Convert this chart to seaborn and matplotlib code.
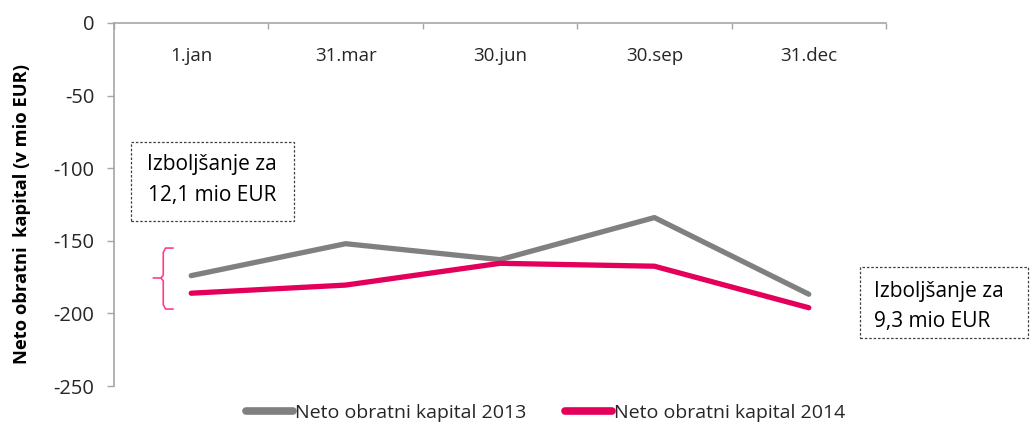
import numpy as np
import pandas as pd
import matplotlib
matplotlib.use("Agg")
import matplotlib.pyplot as plt
from matplotlib.patches import Rectangle
import seaborn as sns

# data
categories = ["1.jan", "31.mar", "30.jun", "30.sep", "31.dec"]
values_2013 = [-174.0, -152.0, -163.0, -134.0, -186.8]
values_2014 = [-186.1, -180.5, -165.5, -167.5, -196.1]
series_names = ["Neto obratni kapital 2013", "Neto obratni kapital 2014"]
y_ticks = [0, -50, -100, -150, -200, -250]

df = pd.DataFrame({
    "pos": list(range(len(categories))) * 2,
    "value": values_2013 + values_2014,
    "series": [series_names[0]] * len(categories) + [series_names[1]] * len(categories),
})

sns.set_style("white")
plt.rcParams["font.family"] = ["Open Sans", "DejaVu Sans"]

W, H = 1032, 426
fig = plt.figure(figsize=(W / 100, H / 100), dpi=100)
ax = fig.add_axes([114 / W, 40 / H, 772 / W, 363 / H])

palette = {series_names[0]: "#808080", series_names[1]: "#e4005a"}
sns.lineplot(data=df, x="pos", y="value", hue="series", palette=palette,
             linewidth=3.8, ax=ax, solid_capstyle="round")

ax.set_xlim(-0.5, len(categories) - 0.5)
ax.set_ylim(-250, 0)
ax.set_yticks(y_ticks)
ax.set_yticklabels([str(v) for v in y_ticks], fontsize=14.5, color="#262626")
ax.tick_params(axis="y", direction="out", length=5, width=1, color="#a6a6a6", pad=9, left=True)

# category axis along the top (crosses at 0)
ax.xaxis.tick_top()
ax.set_xticks(range(len(categories)))
ax.set_xticklabels(categories, fontsize=13.5, color="#262626")
ax.tick_params(axis="x", which="major", length=0, pad=-30)
ax.set_xticks(np.arange(-0.5, len(categories), 1.0), minor=True)
ax.tick_params(axis="x", which="minor", direction="in", length=4.5, width=1,
               color="#a6a6a6", top=True)
ax.set_xlabel("")

for side in ["right", "bottom"]:
    ax.spines[side].set_visible(False)
for side in ["left", "top"]:
    ax.spines[side].set_color("#a6a6a6")
    ax.spines[side].set_linewidth(1.2)

ax.set_ylabel("Neto obratni  kapital (v mio EUR)", fontsize=13.2, fontweight="bold",
              color="black")
ax.yaxis.set_label_coords(-0.108, 0.474)

# annotation boxes (dashed frames)
for x0, y0, x1, y1 in [(131, 142, 294, 221), (860, 267, 1028, 338)]:
    fig.patches.append(Rectangle((x0 / W, 1 - y1 / H), (x1 - x0) / W, (y1 - y0) / H,
                                 transform=fig.transFigure, facecolor="white",
                                 edgecolor="#404040", linestyle=(0, (2, 1.5)),
                                 linewidth=0.9, zorder=5))
for txt, x, y, ha in [("Izboljšanje za", 212, 165, "center"), ("12,1 mio EUR", 212, 196, "center"),
                      ("Izboljšanje za", 874, 292, "left"), ("9,3 mio EUR", 874, 322, "left")]:
    fig.text(x / W, 1 - y / H, txt, ha=ha, va="center", fontsize=15, color="black", zorder=6)

# pink curly brace next to the first point
bx, tip, hook = -0.181, -0.246, -0.117
top_y, bot_y, mid_y = -155.0, -197.0, -175.6
ax.plot([hook, bx + 0.015, bx, bx, bx - 0.015, tip],
        [top_y, top_y, top_y - 3, mid_y + 2, mid_y, mid_y],
        color="#ff3d8b", linewidth=1.2, clip_on=False)
ax.plot([hook, bx + 0.015, bx, bx, bx - 0.015],
        [bot_y, bot_y, bot_y + 3, mid_y - 2, mid_y],
        color="#ff3d8b", linewidth=1.2, clip_on=False)

leg = ax.legend(loc="center", bbox_to_anchor=(0.559, -0.075), ncol=2, frameon=False,
                fontsize=14, handlelength=2.4, handletextpad=0.1, columnspacing=2.0,
                borderpad=0, borderaxespad=0)
for line in leg.get_lines():
    line.set_linewidth(5.5)
for txt in leg.get_texts():
    txt.set_color("#262626")

fig.savefig("out.png", dpi=100)
